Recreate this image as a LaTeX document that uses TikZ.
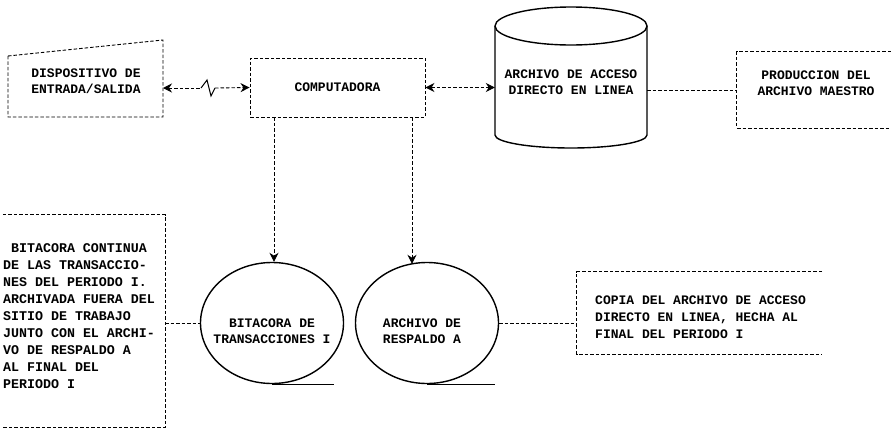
\documentclass[tikz,border=0pt]{standalone}
\usepackage{fontspec}
\setmonofont{Liberation Mono}
\usetikzlibrary{arrows.meta,shapes.geometric,calc}
\begin{document}
\begin{tikzpicture}[x=1pt,y=-1pt,
  txt/.style={font=\ttfamily\bfseries\fontsize{13}{16.5}\selectfont, inner sep=0pt, align=center},
  ltxt/.style={font=\ttfamily\bfseries\fontsize{13.3}{17}\selectfont, inner sep=0pt, align=left},
  dsh/.style={dash pattern=on 3.5pt off 2pt, line width=0.9pt},
  solidln/.style={line width=1.4pt},
  hd/.tip={Stealth[length=9pt,width=9pt]},
  frame/.style={rectangle, inner sep=0pt},
  tape/.style={ellipse, draw, solidln, inner sep=0pt, minimum width=143pt, minimum height=121pt}
  ]
\useasboundingbox (0,0) rectangle (891,431);

% Dispositivo de entrada/salida (manual input shape)
\coordinate (dA) at (8,56);
\coordinate (dB) at (163,40);
\coordinate (dC) at (163,117);
\coordinate (dD) at (8,117);
\draw[dsh] (dA) -- (dB) -- (dC) -- (dD) -- cycle;
\node[txt] (disp) at (86,81) {DISPOSITIVO DE\\ENTRADA/SALIDA};
\coordinate (dR) at (163,88);

% Computadora
\node[txt, draw, dsh, minimum width=175pt, minimum height=59pt] (comp) at (337.5,87.5) {COMPUTADORA};

% Cylinder: archivo de acceso directo en linea
\node[frame, minimum width=152pt, minimum height=120pt] (cyl) at (571,80) {};
\draw[solidln] (495,26) -- (495,135) arc[start angle=180,end angle=0,x radius=76,y radius=13] -- (647,26);
\draw[solidln] (571,26) ellipse[x radius=76, y radius=19];
\node[txt] (cyltxt) at (571,82) {ARCHIVO DE ACCESO\\DIRECTO EN LINEA};

% Produccion del archivo maestro
\node[frame, minimum width=154pt, minimum height=76pt] (prod) at (814,90) {};
\draw[dsh] (prod.north east) -- (prod.north west) -- (prod.south west) -- (prod.south east);
\node[txt] (prodtxt) at (816,83) {PRODUCCION DEL\\ARCHIVO MAESTRO};

% Tapes
\node[tape] (bit) at (272,323) {};
\node[txt] (bittxt) at (272,331) {BITACORA DE\\TRANSACCIONES I};
\node[tape] (resp) at (427,323) {};
\node[txt] (resptxt) at (422,331) {ARCHIVO DE\\RESPALDO A};
\draw[solidln] (bit.south) -- ++(62,0);
\draw[solidln] (resp.south) -- ++(68,0);

% Left note box
\node[frame, minimum width=162pt, minimum height=212pt] (logb) at (84,321) {};
\draw[dsh] (logb.north west) -- (logb.north east) -- (logb.south east) -- (logb.south west);
\node[ltxt, anchor=west] (logtxt) at (3,316) {\hspace{0.6em}BITACORA CONTINUA\\DE LAS TRANSACCIO-\\NES DEL PERIODO I.\\ARCHIVADA FUERA DEL\\SITIO DE TRABAJO\\JUNTO CON EL ARCHI-\\VO DE RESPALDO A\\AL FINAL DEL\\PERIODO I};

% Copy note box
\node[frame, minimum width=245pt, minimum height=82pt] (copyb) at (699.5,313) {};
\draw[dsh] (copyb.north east) -- (copyb.north west) -- (copyb.south west) -- (copyb.south east);
\node[ltxt, anchor=west, font=\ttfamily\bfseries\fontsize{13}{17}\selectfont] (copytxt) at (595,317) {COPIA DEL ARCHIVO DE ACCESO\\DIRECTO EN LINEA, HECHA AL\\FINAL DEL PERIODO I};

% Connectors
\coordinate (z1) at (201,88);
\coordinate (z2) at (207,80);
\coordinate (z3) at (211,96);
\coordinate (z4) at (215,88);
\draw[dsh, hd-] (dR) -- (z1);
\draw[line width=1pt] (z1) -- (z2) -- (z3) -- (z4);
\draw[dsh, -hd] (z4) -- (comp.west);

\draw[dsh, hd-hd] (comp.east) -- (comp.east -| cyl.west);
\draw[dsh] (cyl.east |- prod.west) -- (prod.west);

\coordinate (v1) at (274,117);
\coordinate (v2) at (412,117);
\draw[dsh, -hd] (v1) -- (v1 |- bit.north);
\draw[dsh, -hd] (v2) -- ($(v2 |- resp.north)+(0,2)$);

\draw[dsh] (logb.east |- bit.west) -- (bit.west);
\draw[dsh] (resp.east) -- (resp.east -| copyb.west);
\end{tikzpicture}
\end{document}
